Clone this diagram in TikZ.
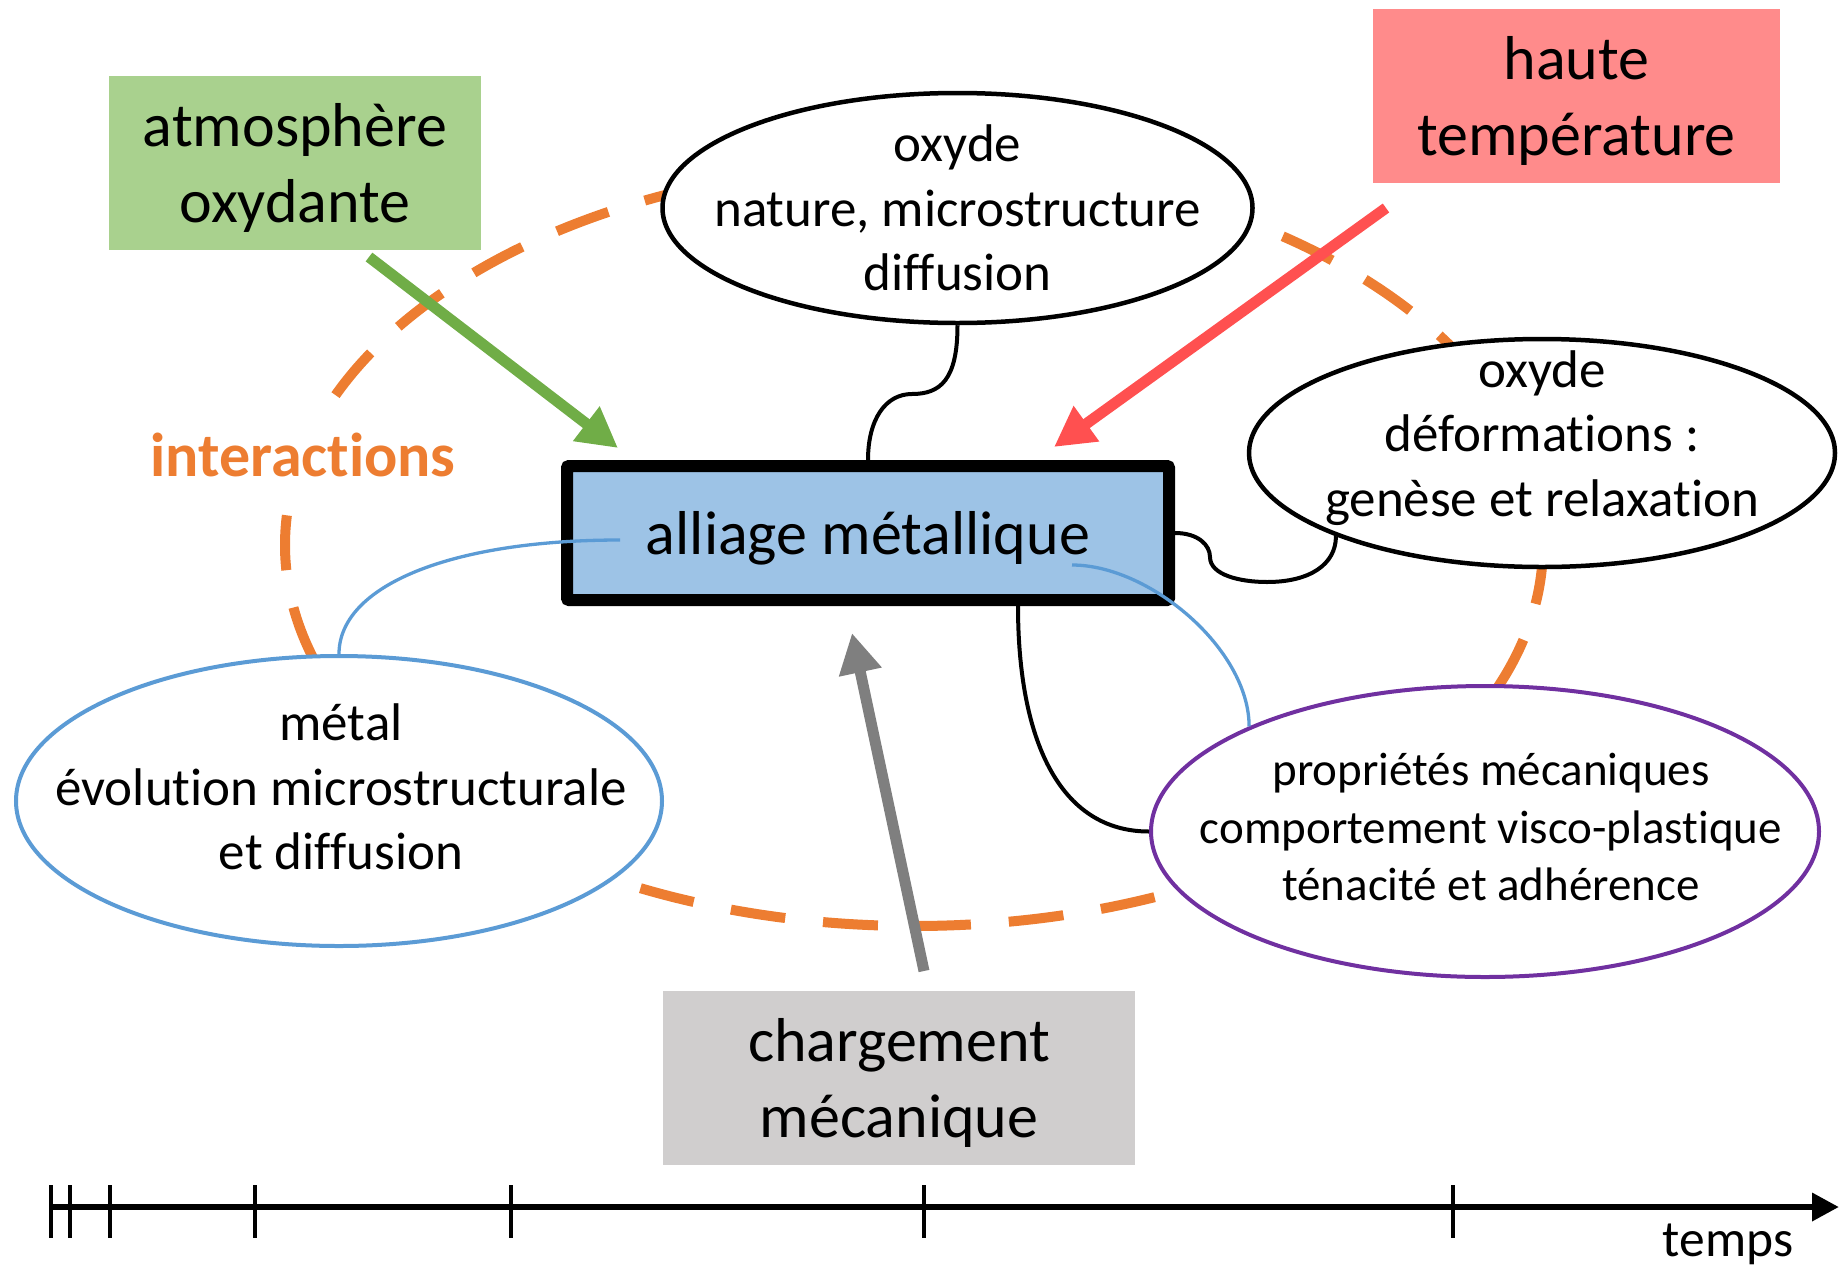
\documentclass[tikz,border=0pt]{standalone}
\usepackage{fontspec}
\setmainfont{Carlito}[Ligatures=NoCommon]
\usetikzlibrary{arrows.meta,shapes.geometric,positioning,calc}

\definecolor{vert}{HTML}{70AD47}
\definecolor{vertclair}{HTML}{A9D18E}
\definecolor{rouge}{HTML}{FF5050}
\definecolor{rougeclair}{HTML}{FF8B8B}
\definecolor{gris}{HTML}{7F7F7F}
\definecolor{grisclair}{HTML}{D0CECE}
\definecolor{bleu}{HTML}{5B9BD5}
\definecolor{bleuclair}{HTML}{9DC3E6}
\definecolor{orangeint}{HTML}{ED7D31}
\definecolor{violetprop}{HTML}{7030A0}

\begin{document}
\begin{tikzpicture}[x=1pt, y=-1pt,
    facteur/.style={rectangle, inner sep=0pt, minimum height=174pt, text depth=0pt, align=center, font=\fontsize{62}{75.5}\selectfont},
    bulle/.style={ellipse, draw, fill=white, line width=4.5pt, inner sep=0pt},
    texte/.style={align=center, inner sep=0pt, font=\fontsize{53}{64.5}\selectfont},
    fleche/.style={line width=11pt, -{Triangle[length=40pt,width=41pt]}},
    lien/.style={line width=4pt},
    lienbleu/.style={line width=3.3pt, draw=bleu}
  ]
  \useasboundingbox (0,0) rectangle (1839,1269);

  % Boucle des interactions
  \draw[orangeint, line width=10pt, dash pattern=on 55pt off 38pt] (914,545) ellipse [x radius=629pt, y radius=381pt];
  \node[fill=white, text=orangeint, inner xsep=4pt, inner ysep=12pt, font=\fontsize{62}{75}\selectfont\bfseries] (inter) at (303,455) {interactions};

  % Bulles
  \node[bulle, minimum width=590pt, minimum height=230pt] (oxnat) at (957.5,208) {};
  \node[texte] (oxnat-t) at (oxnat) {oxyde\\nature, microstructure\\diffusion};
  \node[bulle, minimum width=586pt, minimum height=228pt] (oxdef) at (1542,453) {};
  \node[texte, yshift=15pt] (oxdef-t) at (oxdef) {oxyde\\déformations :\\genèse et relaxation};
  \node[bulle, draw=bleu, line width=4pt, minimum width=646pt, minimum height=290pt] (metal) at (339,801) {};
  \node[texte] (metal-t) at (341,787) {métal\\évolution microstructurale\\et diffusion};
  \node[bulle, draw=violetprop, line width=4pt, minimum width=668pt, minimum height=291pt] (meca) at (1485,831.5) {};
  \node[texte, font=\fontsize{47}{57.5}\selectfont] (meca-t) at (1491,827) {propriétés mécaniques\\comportement visco-plastique\\ténacité et adhérence};

  % Facteurs
  \node[facteur, fill=vertclair, minimum width=372pt] (atmo) at (295,163) {atmosphère\\oxydante};
  \node[facteur, fill=rougeclair, minimum width=407pt] (temp) at (1576.5,96) {haute\\température};
  \node[facteur, fill=grisclair, minimum width=472pt] (charge) at (899,1078) {chargement\\mécanique};
  \node[rectangle, draw, line width=12pt, rounded corners=2pt, fill=bleuclair, minimum width=602pt, minimum height=134pt, text depth=0pt, font=\fontsize{62}{75}\selectfont] (alliage) at (868,533) {alliage métallique};

  % Liens
  \draw[lien] (oxnat.south) .. controls +(0,55) and +(28,0) .. (912,394) .. controls +(-27,0) and +(0,-40) .. (alliage.north);
  \draw[lien] (alliage.east) .. controls +(23,0) and +(0,-12) .. (1210,557) .. controls +(0,18) and +(-27,0) .. (1267,582) .. controls +(43,0) and +(0,28) .. (oxdef.202);
  \draw[lien] ([xshift=150pt]alliage.south) .. controls +(0,133) and +(-90,0) .. (meca.west);
  \coordinate (alliage-g) at (620,540);
  \coordinate (alliage-d) at (1072,565);
  \draw[lienbleu] (metal.north) .. controls +(0,-68) and +(-170,0) .. (alliage-g);
  \draw[lienbleu] (alliage-d) .. controls +(78,0) and +(0,-77) .. (meca.156);

  % Fleches
  \coordinate (atmo-dep) at (369,257);
  \coordinate (atmo-arr) at (618,448);
  \coordinate (temp-dep) at (1386,208);
  \coordinate (temp-arr) at (1054,447);
  \coordinate (charge-dep) at (924,971);
  \coordinate (charge-arr) at (852,633);
  \draw[fleche, vert] (atmo-dep) -- (atmo-arr);
  \draw[fleche, rouge] (temp-dep) -- (temp-arr);
  \draw[fleche, gris] (charge-dep) -- (charge-arr);

  % Axe du temps
  \coordinate (t0) at (51,1207);
  \coordinate (tfin) at (1839,1207);
  \draw[line width=6.5pt, -{Triangle[length=27pt,width=27pt]}] (t0) -- (tfin);
  \foreach \x in {51,70,110,255,511,924,1453}
    \draw[line width=3.5pt] (\x,1185) -- (\x,1238);
  \node[anchor=base, inner sep=0pt, font=\fontsize{51.5}{62}\selectfont] (temps) at (1728,1256) {temps};
\end{tikzpicture}
\end{document}
